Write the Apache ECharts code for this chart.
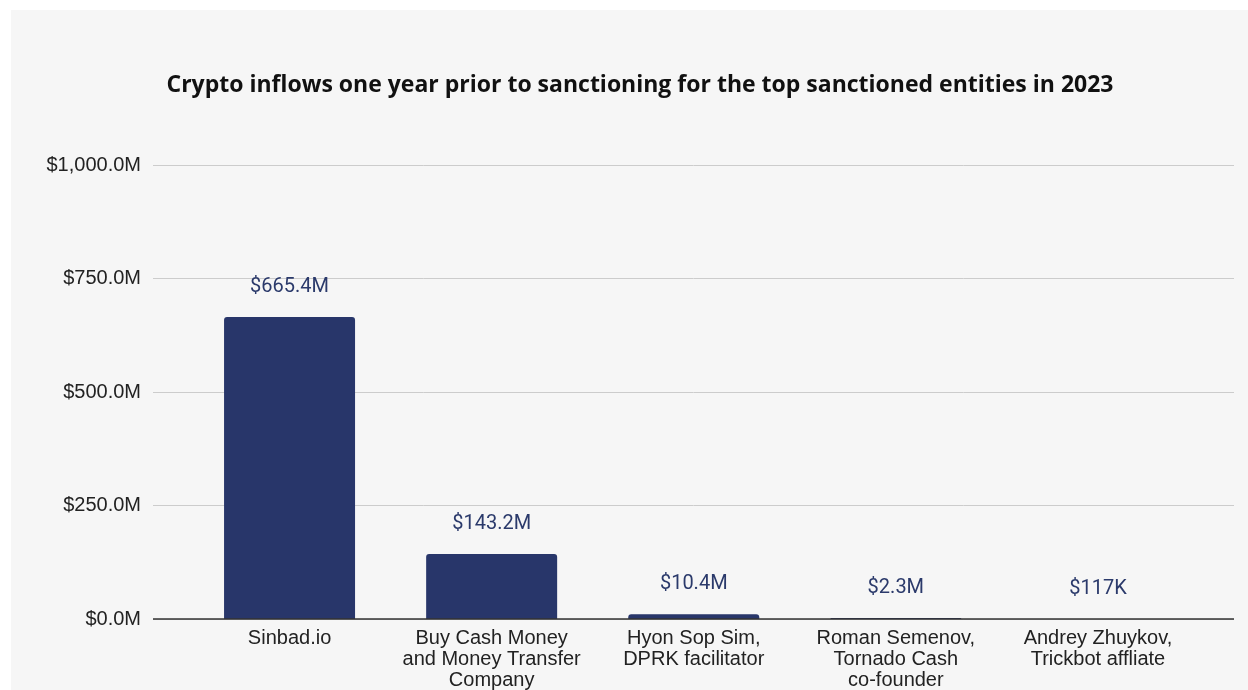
<!DOCTYPE html>
<html><head><meta charset="utf-8">
<script src="https://cdn.jsdelivr.net/npm/echarts@6/dist/echarts.min.js"></script>
<style>
html,body{margin:0;padding:0;background:#fff;width:1248px;height:690px;overflow:hidden}
#bg{position:absolute;left:11px;top:10px;width:1237px;height:680px;background:#f6f6f6}
#c{position:absolute;left:0;top:0;width:1248px;height:690px}
</style></head><body>
<div id="bg"></div><div id="c"></div>
<script>
const title = 'Crypto inflows one year prior to sanctioning for the top sanctioned entities in 2023';
const categories = ['Sinbad.io', 'Buy Cash Money\nand Money Transfer\nCompany', 'Hyon Sop Sim,\nDPRK facilitator', 'Roman Semenov,\nTornado Cash\nco-founder', 'Andrey Zhuykov,\nTrickbot affliate'];
const values = [665.4, 143.2, 10.4, 2.3, 0.117]; // $M
const yTicks = [0, 250, 500, 750, 1000];

function fmtVal(v){
  if (v < 1) return '$' + Math.round(v*1000) + 'K';
  return '$' + v.toFixed(1) + 'M';
}
function fmtAxis(v){
  return '$' + v.toLocaleString('en-US',{minimumFractionDigits:1,maximumFractionDigits:1}) + 'M';
}
const chart = echarts.init(document.getElementById('c'));
chart.setOption({
  backgroundColor: 'transparent',
  animation: false,
  title: {
    text: title, left: 635, textAlign: 'center', top: 69,
    textStyle: {fontFamily: 'Open Sans', fontWeight: 'bold', fontSize: 23, color: '#111'}
  },
  grid: [
    {left: 153, right: 14, top: 165, bottom: 71, outerBoundsMode: 'none'},
    {left: 188.5, right: 49, top: 165, bottom: 71, outerBoundsMode: 'none'}
  ],
  xAxis: [
    {gridIndex: 0, type: 'category', data: categories, show: false},
    {gridIndex: 1, type: 'category', data: categories,
      axisLine: {show: false}, axisTick: {show: false},
      axisLabel: {interval: 0, margin: 9, fontFamily: 'Liberation Sans', fontSize: 20, lineHeight: 21, color: '#222'}}
  ],
  yAxis: [
    {gridIndex: 0, type: 'value', min: 0, max: 1000, interval: 250,
      axisLabel: {formatter: fmtAxis, margin: 12, fontFamily: 'Liberation Sans', fontSize: 20, color: '#222'},
      splitLine: {lineStyle: {color: '#cccccc', width: 1}},
      axisLine: {show: false}, axisTick: {show: false}},
    {gridIndex: 1, type: 'value', min: 0, max: 1000, interval: 250, show: false, splitLine: {show: false}}
  ],
  series: [
    {type: 'line', xAxisIndex: 0, yAxisIndex: 0, data: [],
      markLine: {silent: true, symbol: 'none', label: {show: false},
        lineStyle: {color: '#333', width: 1.5, type: 'solid'}, data: [{yAxis: 0}]}},
    {type: 'bar', xAxisIndex: 1, yAxisIndex: 1, data: values, barWidth: 131,
      itemStyle: {color: '#28366a', borderRadius: [3,3,0,0]},
      label: {show: true, position: 'top', distance: 20, formatter: p => fmtVal(p.value),
        fontFamily: 'Roboto', fontSize: 20, color: '#2b3a6b'}}
  ]
});
</script></body></html>
